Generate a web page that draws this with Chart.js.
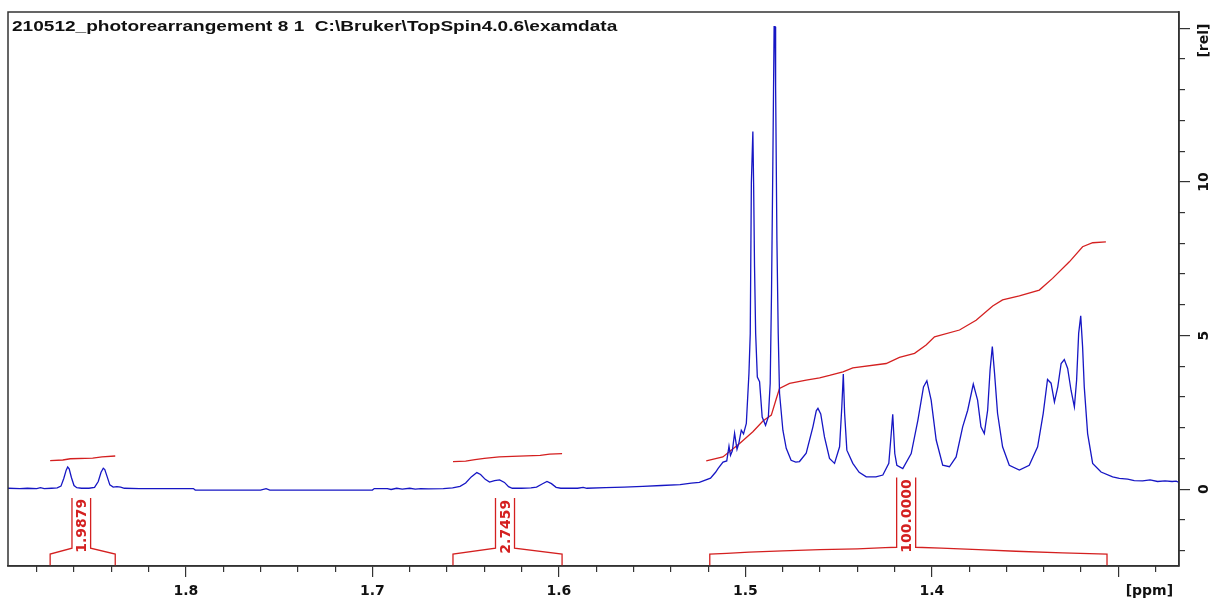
<!DOCTYPE html>
<html>
<head>
<meta charset="utf-8">
<script src="https://cdn.jsdelivr.net/npm/chart.js@4.4.0/dist/chart.umd.min.js"></script>
<style>
  html, body { margin: 0; padding: 0; background: #fff; }
  canvas { display: block; }
</style>
</head>
<body>
<canvas id="nmr" width="1218" height="604"></canvas>
<script>
const spectrumTitle = '210512_photorearrangement 8 1  C:\\Bruker\\TopSpin4.0.6\\examdata';

// 1H spectrum (ppm, rel. intensity)
const specPpm = [
  1.8954, 1.8890, 1.8850, 1.8800, 1.8780, 1.8760, 1.8720, 1.8690, 1.8670, 1.8655,
  1.8642, 1.8634, 1.8626, 1.8614, 1.8600, 1.8585, 1.8560, 1.8520, 1.8490, 1.8470,
  1.8455, 1.8443, 1.8435, 1.8422, 1.8408, 1.8390, 1.8370, 1.8350, 1.8330, 1.8250,
  1.8100, 1.7960, 1.7950, 1.7600, 1.7570, 1.7550, 1.7000, 1.6990, 1.6920, 1.6900,
  1.6870, 1.6840, 1.6800, 1.6770, 1.6740, 1.6700, 1.6620, 1.6570, 1.6530, 1.6500,
  1.6470, 1.6440, 1.6420, 1.6395, 1.6372, 1.6345, 1.6318, 1.6292, 1.6270, 1.6250,
  1.6200, 1.6150, 1.6120, 1.6090, 1.6064, 1.6040, 1.6015, 1.5990, 1.5900, 1.5870,
  1.5850, 1.5750, 1.5650, 1.5550, 1.5450, 1.5350, 1.5290, 1.5247, 1.5187, 1.5160,
  1.5146, 1.5120, 1.5100, 1.5088, 1.5080, 1.5070, 1.5058, 1.5045, 1.5035, 1.5022,
  1.5010, 1.4995, 1.4981, 1.4974, 1.4968, 1.4960, 1.4956, 1.4951, 1.4945, 1.4936,
  1.4924, 1.4910, 1.4892, 1.4877, 1.4867, 1.4860, 1.4853, 1.4846, 1.4841, 1.4838,
  1.4831, 1.4824, 1.4817, 1.4799, 1.4781, 1.4755, 1.4730, 1.4710, 1.4674, 1.4638,
  1.4620, 1.4611, 1.4596, 1.4576, 1.4549, 1.4522, 1.4495, 1.4483, 1.4475, 1.4468,
  1.4456, 1.4424, 1.4390, 1.4352, 1.4300, 1.4263, 1.4231, 1.4218, 1.4210, 1.4199,
  1.4188, 1.4156, 1.4111, 1.4075, 1.4045, 1.4027, 1.4004, 1.3977, 1.3942, 1.3906,
  1.3870, 1.3835, 1.3808, 1.3778, 1.3755, 1.3737, 1.3719, 1.3701, 1.3688, 1.3676,
  1.3664, 1.3648, 1.3621, 1.3585, 1.3531, 1.3478, 1.3433, 1.3403, 1.3380, 1.3361,
  1.3343, 1.3325, 1.3307, 1.3290, 1.3272, 1.3254, 1.3236, 1.3224, 1.3213, 1.3202,
  1.3192, 1.3183, 1.3165, 1.3138, 1.3093, 1.3031, 1.2995, 1.2950, 1.2915, 1.2870,
  1.2830, 1.2790, 1.2750, 1.2712, 1.2690, 1.2675
];
const specRel = [
  0.03, 0.02, 0.03, 0.02, 0.05, 0.02, 0.03, 0.04, 0.10, 0.35,
  0.62, 0.72, 0.66, 0.38, 0.12, 0.05, 0.03, 0.03, 0.06, 0.25,
  0.55, 0.68, 0.64, 0.40, 0.14, 0.07, 0.08, 0.07, 0.03, 0.02,
  0.02, 0.02, -0.03, -0.03, 0.02, -0.03, -0.03, 0.02, 0.02, -0.01,
  0.03, 0.00, 0.03, 0.00, 0.02, 0.01, 0.02, 0.04, 0.09, 0.20,
  0.40, 0.54, 0.48, 0.32, 0.23, 0.28, 0.30, 0.22, 0.08, 0.03,
  0.03, 0.04, 0.07, 0.17, 0.25, 0.18, 0.06, 0.03, 0.03, 0.06,
  0.03, 0.05, 0.07, 0.09, 0.12, 0.15, 0.20, 0.22, 0.36, 0.55,
  0.68, 0.88, 0.92, 1.40, 1.10, 1.25, 1.82, 1.30, 1.50, 1.92,
  1.80, 2.14, 3.77, 5.07, 9.97, 11.64, 9.97, 7.23, 5.07, 3.65,
  3.50, 2.35, 2.08, 2.35, 3.45, 6.38, 10.50, 15.05, 15.05, 13.10,
  8.10, 5.07, 3.12, 1.92, 1.33, 0.94, 0.88, 0.90, 1.17, 2.03,
  2.55, 2.63, 2.45, 1.70, 1.00, 0.84, 1.38, 2.68, 3.75, 2.47,
  1.27, 0.84, 0.55, 0.40, 0.40, 0.46, 0.84, 1.81, 2.44, 1.16,
  0.78, 0.67, 1.16, 2.25, 3.33, 3.53, 2.90, 1.60, 0.78, 0.73,
  1.05, 2.03, 2.57, 3.42, 2.90, 2.03, 1.81, 2.57, 3.88, 4.64,
  3.77, 2.47, 1.38, 0.78, 0.62, 0.78, 1.38, 2.47, 3.57, 3.45,
  2.84, 3.33, 4.09, 4.22, 3.93, 3.22, 2.68, 3.55, 5.07, 5.64,
  4.64, 3.33, 1.81, 0.84, 0.56, 0.40, 0.35, 0.33, 0.28, 0.27,
  0.30, 0.25, 0.27, 0.25, 0.26, 0.22
];

// integral curves
const int1Ppm = [1.8728, 1.8660, 1.8620, 1.8500, 1.8450, 1.8379];
const int1Rel = [0.93, 0.95, 0.99, 1.01, 1.05, 1.08];
const int2Ppm = [1.6568, 1.6500, 1.6450, 1.6400, 1.6320, 1.6250, 1.6100, 1.6050, 1.5983];
const int2Rel = [0.90, 0.91, 0.96, 1.00, 1.05, 1.07, 1.10, 1.14, 1.16];
const int3Ppm = [
  1.5210, 1.5121, 1.5031, 1.4960, 1.4906, 1.4861, 1.4834, 1.4817, 1.4763, 1.4674,
  1.4602, 1.4549, 1.4477, 1.4424, 1.4245, 1.4174, 1.4093, 1.4031, 1.3986, 1.3852,
  1.3763, 1.3674, 1.3621, 1.3531, 1.3424, 1.3353, 1.3263, 1.3192, 1.3138, 1.3067
];
const int3Rel = [
  0.92, 1.05, 1.49, 1.87, 2.22, 2.41, 2.95, 3.28, 3.44, 3.55,
  3.62, 3.70, 3.82, 3.95, 4.09, 4.29, 4.42, 4.69, 4.96, 5.18,
  5.50, 5.96, 6.16, 6.29, 6.48, 6.86, 7.40, 7.89, 8.02, 8.05
];

// integral brackets (null splits the two halves around the label box)
const br1Ppm = [1.8728, 1.8728, 1.8611, 1.8611, null, 1.8511, 1.8511, 1.8379, 1.8379];
const br1Rel = [-2.5, -2.11, -1.92, -0.29, null, -0.29, -1.92, -2.11, -2.5];
const br2Ppm = [1.6568, 1.6568, 1.6340, 1.6340, null, 1.6238, 1.6238, 1.5983, 1.5983];
const br2Rel = [-2.5, -2.11, -1.92, -0.29, null, -0.29, -1.92, -2.11, -2.5];
const br3Ppm = [1.5191, 1.5191, 1.5100, 1.4980, 1.4800, 1.4600, 1.4400, 1.4250, 1.4189, 1.4189, null,
                1.4087, 1.4087, 1.3950, 1.3750, 1.3550, 1.3300, 1.3061, 1.3061];
const br3Rel = [-2.5, -2.11, -2.09, -2.05, -2.01, -1.97, -1.94, -1.90, -1.89, 0.38, null,
                0.38, -1.89, -1.92, -1.97, -2.02, -2.07, -2.11, -2.5];

const integralLabels = ['1.9879', '2.7459', '100.0000'];
const integralLabelPpm = [1.8561, 1.6289, 1.4138];
const integralLabelRel = [-1.19, -1.22, -0.87];

// axes
const ppmMajor = [1.8, 1.7, 1.6, 1.5, 1.4, 1.3];
const ppmLabels = ['1.8', '1.7', '1.6', '1.5', '1.4', ''];
const ppmMinor = [1.88, 1.86, 1.84, 1.82, 1.78, 1.76, 1.74, 1.72, 1.68, 1.66, 1.64, 1.62,
                  1.58, 1.56, 1.54, 1.52, 1.48, 1.46, 1.44, 1.42, 1.38, 1.36, 1.34, 1.32, 1.28];
const relMajor = [0, 5, 10, 15];
const relLabels = ['0', '5', '10'];
const relMinor = [-2, -1, 1, 2, 3, 4, 6, 7, 8, 9, 11, 12, 13, 14];

const BLUE = '#1616c4';
const RED = '#d42020';
const AXIS = '#333';
const FONT = '"DejaVu Sans", Verdana, sans-serif';
const TITLE_FONT = '"Liberation Sans", Arial, sans-serif';

function pts(xs, ys) {
  return xs.map((x, i) => (x === null ? { x: NaN, y: null } : { x: x, y: ys[i] }));
}

function lineSet(xs, ys, color) {
  return {
    data: pts(xs, ys),
    borderColor: color,
    borderWidth: 1.3,
    pointRadius: 0,
    tension: 0,
    spanGaps: false
  };
}

const decorations = {
  id: 'decorations',
  beforeDraw(chart) {
    const ctx = chart.ctx;
    ctx.save();
    ctx.fillStyle = '#fff';
    ctx.fillRect(0, 0, chart.width, chart.height);
    ctx.restore();
  },
  afterDraw(chart) {
    const { ctx, chartArea: a, scales: { x, y } } = chart;
    ctx.save();

    // frame
    ctx.strokeStyle = AXIS;
    ctx.lineWidth = 1.5;
    ctx.strokeRect(a.left, a.top, a.right - a.left, a.bottom - a.top);

    // title (the original is a horizontally stretched Arial bold)
    ctx.save();
    ctx.fillStyle = '#111';
    ctx.font = 'bold 15px ' + TITLE_FONT;
    ctx.textAlign = 'left';
    ctx.textBaseline = 'middle';
    ctx.translate(a.left + 4, a.top + 15);
    ctx.scale(1.27, 1);
    ctx.fillText(spectrumTitle, 0, 0);
    ctx.restore();

    // integral values
    ctx.fillStyle = RED;
    ctx.font = 'bold 14px ' + FONT;
    ctx.textAlign = 'center';
    ctx.textBaseline = 'middle';
    integralLabels.forEach((t, i) => {
      ctx.save();
      ctx.translate(x.getPixelForValue(integralLabelPpm[i]), y.getPixelForValue(integralLabelRel[i]));
      ctx.rotate(-Math.PI / 2);
      ctx.fillText(t, 0, 1);
      ctx.restore();
    });

    // right axis labels, rotated
    ctx.fillStyle = '#111';
    ctx.font = 'bold 14px ' + FONT;
    const lx = a.right + 25;
    relLabels.forEach(t => {
      ctx.save();
      ctx.translate(lx, y.getPixelForValue(Number(t)));
      ctx.rotate(-Math.PI / 2);
      ctx.fillText(t, 0, 0);
      ctx.restore();
    });
    ctx.save();
    ctx.translate(lx, y.getPixelForValue(14.6));
    ctx.rotate(-Math.PI / 2);
    ctx.fillText('[rel]', 0, 0);
    ctx.restore();

    // ppm unit
    ctx.textAlign = 'center';
    ctx.textBaseline = 'middle';
    ctx.fillText('[ppm]', x.getPixelForValue(1.2834), a.bottom + 25);

    ctx.restore();
  }
};

const xRange = { type: 'linear', reverse: true, min: 1.2675, max: 1.8954 };
const yRange = { type: 'linear', min: -2.5, max: 15.53 };

new Chart(document.getElementById('nmr'), {
  type: 'line',
  data: {
    datasets: [
      lineSet(specPpm, specRel, BLUE),
      lineSet(int1Ppm, int1Rel, RED),
      lineSet(int2Ppm, int2Rel, RED),
      lineSet(int3Ppm, int3Rel, RED),
      lineSet(br1Ppm, br1Rel, RED),
      lineSet(br2Ppm, br2Rel, RED),
      lineSet(br3Ppm, br3Rel, RED)
    ]
  },
  options: {
    responsive: false,
    animation: false,
    devicePixelRatio: 1,
    layout: { padding: { left: 8, top: 12, right: 0, bottom: 0 } },
    plugins: { legend: { display: false }, tooltip: { enabled: false }, title: { display: false } },
    scales: {
      xMinor: {
        ...xRange,
        axis: 'x',
        position: 'bottom',
        weight: 0,
        afterBuildTicks: s => { s.ticks = ppmMinor.map(v => ({ value: v })); },
        afterFit: s => { s.height = 0; },
        grid: { drawOnChartArea: false, tickLength: 6, color: AXIS, lineWidth: 1.2 },
        border: { display: false },
        ticks: { display: false }
      },
      x: {
        ...xRange,
        position: 'bottom',
        weight: 1,
        afterBuildTicks: s => { s.ticks = ppmMajor.map(v => ({ value: v })); },
        afterFit: s => { s.height = 38; },
        grid: { drawOnChartArea: false, tickLength: 11, color: AXIS, lineWidth: 1.2 },
        border: { display: true, color: AXIS, width: 1.5 },
        ticks: {
          autoSkip: false,
          maxRotation: 0,
          padding: 6,
          color: '#111',
          font: { family: FONT, size: 14, weight: 'bold' },
          callback: (v, i) => ppmLabels[i]
        }
      },
      yMinor: {
        ...yRange,
        axis: 'y',
        position: 'right',
        weight: 0,
        afterBuildTicks: s => { s.ticks = relMinor.map(v => ({ value: v })); },
        afterFit: s => { s.width = 0; },
        grid: { drawOnChartArea: false, tickLength: 6, color: AXIS, lineWidth: 1.2 },
        border: { display: false },
        ticks: { display: false }
      },
      y: {
        ...yRange,
        position: 'right',
        weight: 1,
        afterBuildTicks: s => { s.ticks = relMajor.map(v => ({ value: v })); },
        afterFit: s => { s.width = 39; },
        grid: { drawOnChartArea: false, tickLength: 11, color: AXIS, lineWidth: 1.2 },
        border: { display: true, color: AXIS, width: 1.5 },
        ticks: { display: false }
      }
    }
  },
  plugins: [decorations]
});
</script>
</body>
</html>
